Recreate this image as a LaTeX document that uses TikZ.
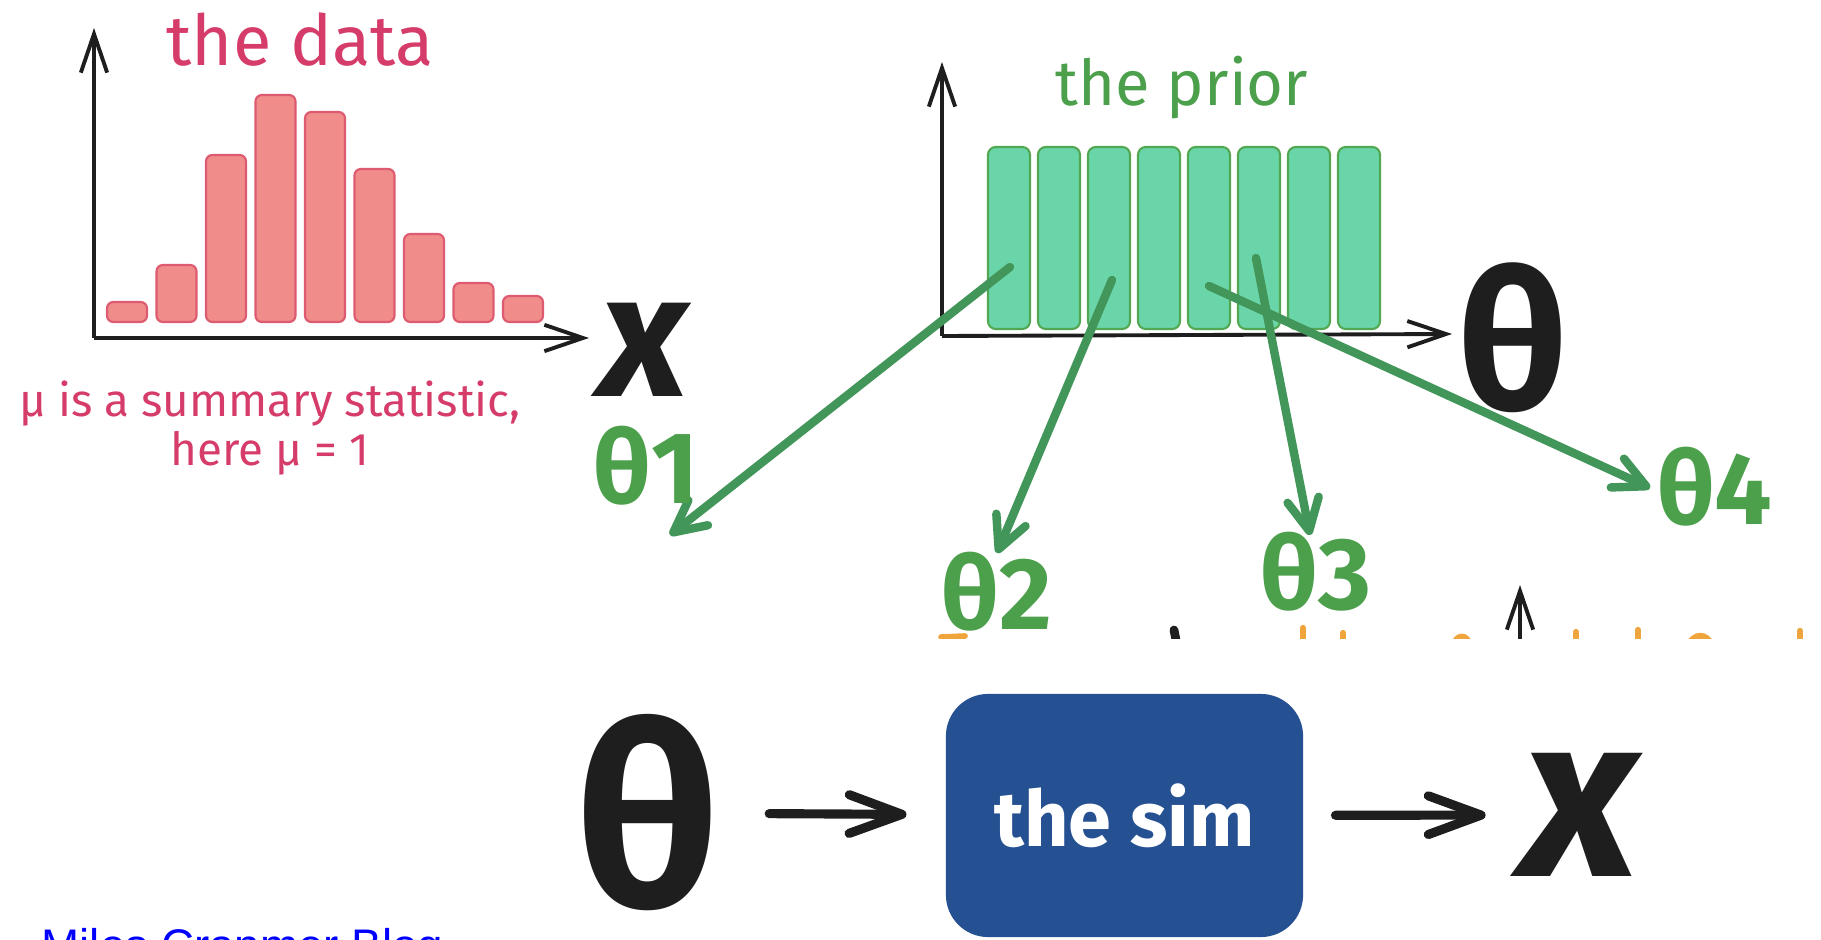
\documentclass[tikz,border=0pt]{standalone}
\usepackage{fontspec}
\setmainfont{Fira Sans}
\newfontfamily\blogfont{Liberation Sans}
\usetikzlibrary{arrows.meta}

\definecolor{datared}{RGB}{214,60,105}
\definecolor{barpink}{RGB}{240,140,138}
\definecolor{barpinkline}{RGB}{222,90,112}
\definecolor{priorfill}{RGB}{106,213,168}
\definecolor{priorline}{RGB}{82,168,82}
\definecolor{thetagreen}{RGB}{76,160,76}
\definecolor{arrowgreen}{RGB}{66,150,90}
\definecolor{simblue}{RGB}{37,80,145}
\definecolor{inkblack}{RGB}{30,30,30}
\definecolor{noteorange}{RGB}{240,165,60}
\definecolor{linkblue}{RGB}{0,0,255}

\tikzset{
  axis/.style={line width=1.1pt, draw=inkblack, ->},
  databar/.style={fill=barpink, draw=barpinkline, line width=0.6pt, rounded corners=1.8pt},
  priorbar/.style={fill=priorfill, draw=priorline, line width=0.6pt, rounded corners=2.2pt},
  pick/.style={line width=2.4pt, draw=arrowgreen, line cap=round,
    -{Straight Barb[length=9pt,width=9pt,round]}},
  flow/.style={line width=2.6pt, draw=inkblack, line cap=round,
    -{Straight Barb[length=15pt,width=11pt,round]}},
  thetalabel/.style={text=thetagreen, inner sep=0pt, font=\fontsize{29}{29}\selectfont\bfseries},
  bigsym/.style={text=inkblack, inner sep=0pt},
  simbox/.style={fill=simblue, rounded corners=12pt, minimum width=3.57cm,
    minimum height=2.43cm, text=white, font=\fontsize{22}{22}\selectfont\bfseries},
}

\begin{document}
\begin{tikzpicture}[x=0.01cm, y=-0.01cm, >={Straight Barb[length=11pt,width=7.5pt]}]
    \useasboundingbox (0,0) rectangle (1821,940);

    % the data
    \begin{scope}
        \coordinate (O1) at (94,338);
        \coordinate (Y1) at (94,28);
        \coordinate (X1) at (589,338);
        \foreach \i/\h in {0/302,1/265,2/155,3/95,4/112,5/169,6/234,7/283,8/296}
            \draw[databar] (107+49.5*\i,322) rectangle (147+49.5*\i,\h);
        \draw[axis] (O1) -- (Y1);
        \draw[axis] (O1) -- (X1);
        \node[bigsym, font=\fontsize{50}{50}\selectfont\bfseries\itshape] (xdata) at (644,350) {x};
        \node[text=datared, font=\fontsize{20}{20}\selectfont] (datatitle) at (300,40) {the data};
        \node[text=datared, align=center, font=\fontsize{13}{14}\selectfont] (summary) at (270,428)
            {μ is a summary statistic,\\ here μ = 1};
    \end{scope}

    % the prior
    \begin{scope}
        \coordinate (O2) at (942,336);
        \coordinate (Y2) at (942,62);
        \coordinate (X2) at (1452,334);
        \foreach \i in {0,...,7}
            \draw[priorbar] (988+50*\i,329) rectangle (1030+50*\i,147);
        \draw[axis] (O2) -- (Y2);
        \draw[axis] (O2) -- (X2);
        \node[bigsym, font=\fontsize{55}{55}\selectfont\bfseries] (thetaprior) at (1513,338) {θ};
        \node[text=thetagreen, font=\fontsize{18}{18}\selectfont] (priortitle) at (1182,88) {the prior};
    \end{scope}

    % draws from the prior
    \coordinate (s1) at (1010,267);
    \coordinate (s2) at (1112,280);
    \coordinate (s3) at (1256,258);
    \coordinate (s4) at (1209,286);
    \coordinate (t1) at (670,535);
    \coordinate (t2) at (997,553);
    \coordinate (t3) at (1310,535);
    \coordinate (t4) at (1650,488);
    \draw[pick] (s1) -- (t1);
    \draw[pick] (s2) -- (t2);
    \draw[pick] (s3) -- (t3);
    \draw[pick] (s4) -- (t4);
    \node[thetalabel] (th1) at (646,466) {θ1};
    \node[thetalabel] (th2) at (997,592) {θ2};
    \node[thetalabel] (th3) at (1316,572) {θ3};
    \node[thetalabel] (th4) at (1715,487) {θ4};

    % edge of the cut
    \begin{scope}
        \clip (900,560) rectangle (1821,638);
        \draw[axis] (1520,680) -- (1520,585);
        \draw[inkblack, line width=2.5pt, line cap=round] (1174,630) -- (1180,660);
        \draw[noteorange, line width=1.6pt, line cap=round] (941,637) -- (965,636);
        \foreach \xa/\ya in {1303/628,1343/633,1576/632,1638/630,1800/631}
            \draw[noteorange, line width=1.8pt, line cap=round] (\xa,\ya) -- (\xa,660);
        \draw[noteorange, line width=1.8pt, line cap=round] (1453,645) .. controls (1458,634) and (1466,634) .. (1470,645);
        \draw[noteorange, line width=1.8pt, line cap=round] (1688,645) .. controls (1695,633) and (1706,633) .. (1712,645);
    \end{scope}

    % the simulator
    \node[bigsym, font=\fontsize{72}{72}\selectfont\bfseries] (thetain) at (648,813) {θ};
    \node[simbox] (sim) at (1124.5,815.5) {the sim};
    \node[bigsym, font=\fontsize{66}{66}\selectfont\bfseries\itshape] (xout) at (1580,815) {x};
    \draw[flow, shorten <=14pt, shorten >=11pt] (thetain) -- (sim);
    \draw[flow, shorten <=9pt, shorten >=10pt] (sim) -- (xout);

    \node[anchor=base west, inner sep=0pt, text=linkblue, font=\blogfont\fontsize{13}{13}\selectfont] (blog) at (41,961) {Miles Cranmer Blog};
\end{tikzpicture}
\end{document}
